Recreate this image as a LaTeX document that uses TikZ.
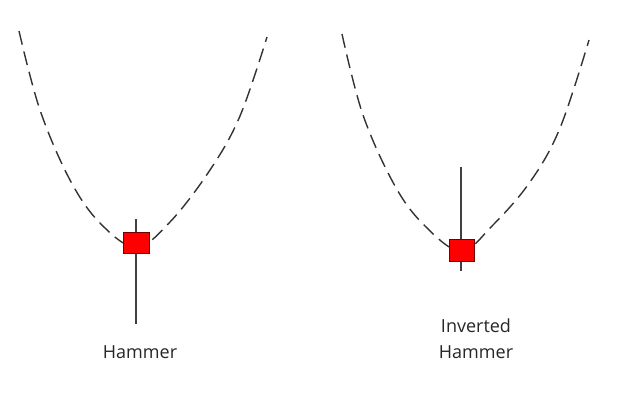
\documentclass[tikz,border=0pt]{standalone}
\usepackage{fontspec}
\setmainfont{Open Sans}
\begin{document}
\begin{tikzpicture}[x=1pt,y=-1pt,
  trend/.style={draw=black!80, line width=1.4pt, dash pattern=on 14pt off 7pt},
  wick/.style={draw=black!75, line width=1.3pt},
  body/.style={draw=red!45!black, fill=red, line width=0.6pt, minimum width=26pt, minimum height=21pt, inner sep=0pt},
  lbl/.style={font=\fontsize{18}{26}\selectfont, text=black!85, align=center}]
\useasboundingbox (0,0) rectangle (618,400);
% trend curves
\draw[trend] plot[smooth, tension=0.6] coordinates {(19,31) (40,110) (70,180) (100,223) (136,247) (170,222) (210,170) (240,116) (267,37)};
\draw[trend] plot[smooth, tension=0.6] coordinates {(342,34) (363,115) (395,186) (425,226) (461,251) (492,226) (530,182) (560,128) (589,40)};
% hammer
\coordinate (h-top) at (136,219);
\coordinate (h-bot) at (136,324);
\draw[wick] (h-top) -- (h-bot);
\node[body] (h-body) at (136,242.5) {};
\node[lbl] (h-lbl) at (140,352) {Hammer};
% inverted hammer
\coordinate (i-top) at (461,167);
\coordinate (i-bot) at (461,271);
\draw[wick] (i-top) -- (i-bot);
\node[body, minimum width=25pt, minimum height=22pt] (i-body) at (461.5,250) {};
\node[lbl] (i-lbl) at (476,339) {Inverted\\Hammer};
\end{tikzpicture}
\end{document}
